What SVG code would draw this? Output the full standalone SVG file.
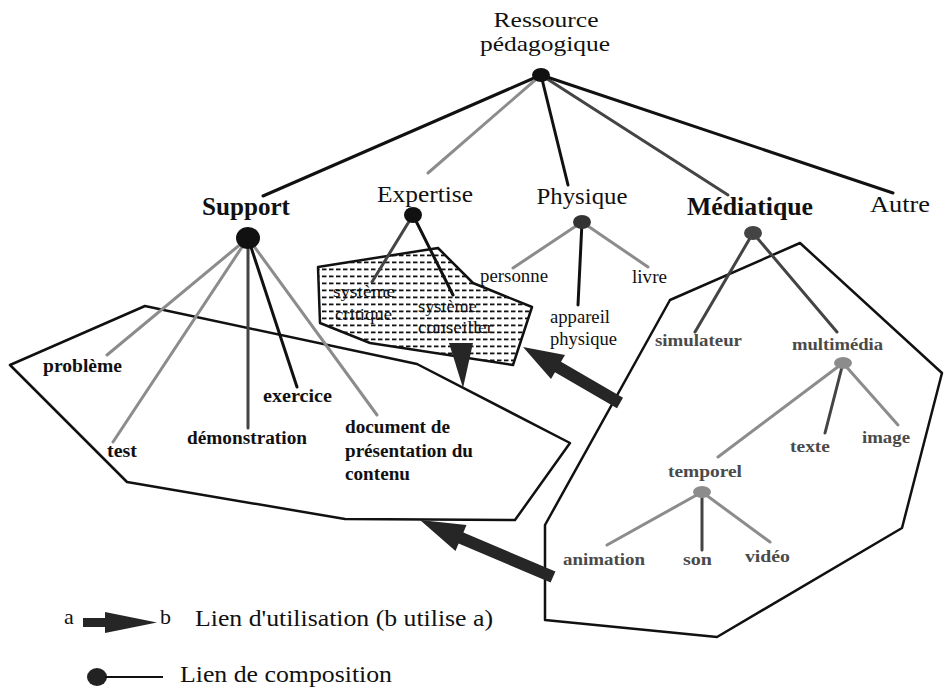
<svg xmlns="http://www.w3.org/2000/svg" width="948" height="688" viewBox="0 0 948 688">
<style>
.t{font-family:"Liberation Serif","Times New Roman",serif;fill:#111}
.b{font-weight:bold}
.g{fill:#4a4a4a}
.blk{stroke:#111;stroke-width:3;fill:none;stroke-linecap:round}
.dk{stroke:#444;stroke-width:3;fill:none;stroke-linecap:round}
.gr{stroke:#8c8c8c;stroke-width:3;fill:none;stroke-linecap:round}
.reg{fill:none;stroke:#111;stroke-width:2.5;stroke-linejoin:round}
.arr{fill:#262626}
</style>
<defs>
<pattern id="dash" patternUnits="userSpaceOnUse" width="7" height="7">
<rect x="0" y="2.5" width="4.5" height="1.8" fill="#111"/>
</pattern>
</defs>
<rect width="948" height="688" fill="#fff"/>

<g id="regions">
<polygon id="region-support" class="reg" points="10,365 145,306 417,364 570,443 515,520 345,519 127,482"/>
<polygon id="region-mediatique" class="reg" points="670,300 800,243 942,373 902,528 717,637 545,620 545,525"/>
<polygon id="region-expertise" class="reg" style="fill:url(#dash)" points="318,267 438,248 473,283 532,307 513,365 370,343 320,323"/>
</g>

<g id="connectors">
<line class="blk" x1="541" y1="75" x2="263" y2="196"/>
<line class="gr" x1="541" y1="75" x2="428" y2="173"/>
<line class="blk" x1="541" y1="75" x2="568" y2="185"/>
<line class="dk" x1="541" y1="75" x2="728" y2="195"/>
<line class="blk" x1="541" y1="75" x2="893" y2="193"/>

<line class="gr" x1="248" y1="238" x2="107" y2="355"/>
<line class="gr" x1="248" y1="238" x2="113" y2="442"/>
<line class="dk" x1="248" y1="238" x2="248" y2="428"/>
<line class="blk" x1="248" y1="238" x2="297" y2="387"/>
<line class="gr" x1="248" y1="238" x2="377" y2="415"/>

<line class="dk" x1="413" y1="215" x2="372" y2="282"/>
<line class="blk" x1="413" y1="215" x2="453" y2="295"/>

<line class="gr" x1="582" y1="222" x2="513" y2="268"/>
<line class="blk" x1="582" y1="222" x2="578" y2="305"/>
<line class="gr" x1="582" y1="222" x2="648" y2="267"/>

<line class="dk" x1="753" y1="233" x2="695" y2="332"/>
<line class="dk" x1="753" y1="233" x2="837" y2="332"/>

<line class="gr" x1="843" y1="363" x2="718" y2="457"/>
<line class="dk" x1="843" y1="363" x2="825" y2="433"/>
<line class="gr" x1="843" y1="363" x2="898" y2="425"/>

<line class="gr" x1="702" y1="492" x2="607" y2="545"/>
<line class="dk" x1="702" y1="492" x2="702" y2="550"/>
<line class="gr" x1="702" y1="492" x2="770" y2="542"/>

<polygon id="use-expertise-support" class="arr" points="449,343 473,343 463,388"/>
<polygon id="use-mediatique-expertise" class="arr" points="523,347 565,355 561,361.8 623,397.8 617,408.2 555,372.2 551,379"/>
<polygon id="use-mediatique-support" class="arr" points="420,520 466.5,525 463.4,532.5 555.4,571.5 550.6,582.5 458.6,543.5 455.5,551"/>
</g>

<g id="root">
<ellipse cx="541" cy="75" rx="9" ry="7" fill="#111"/>
<text class="t" x="546" y="27" font-size="21" text-anchor="middle" textLength="105" lengthAdjust="spacingAndGlyphs">Ressource</text>
<text class="t" x="545" y="51" font-size="21" text-anchor="middle" textLength="130" lengthAdjust="spacingAndGlyphs">pédagogique</text>
</g>

<g id="support">
<ellipse cx="248" cy="238" rx="12" ry="11" fill="#111"/>
<text class="t b" x="246" y="215" font-size="25" text-anchor="middle" textLength="88" lengthAdjust="spacingAndGlyphs">Support</text>
</g>
<g id="expertise">
<ellipse cx="413" cy="215" rx="9" ry="8" fill="#111"/>
<text class="t" x="425" y="202" font-size="24" text-anchor="middle" textLength="96" lengthAdjust="spacingAndGlyphs">Expertise</text>
</g>
<g id="physique">
<ellipse cx="582" cy="222" rx="9" ry="7" fill="#333"/>
<text class="t" x="582" y="204" font-size="24" text-anchor="middle" textLength="91" lengthAdjust="spacingAndGlyphs">Physique</text>
</g>
<g id="mediatique">
<ellipse cx="753" cy="233" rx="9" ry="7" fill="#444"/>
<text class="t b" x="750" y="215" font-size="25" text-anchor="middle" textLength="126" lengthAdjust="spacingAndGlyphs">Médiatique</text>
</g>
<g id="autre">
<text class="t" x="900" y="212" font-size="24" text-anchor="middle" textLength="60" lengthAdjust="spacingAndGlyphs">Autre</text>
</g>

<g id="probleme"><text class="t b" x="43" y="372" font-size="18" textLength="79" lengthAdjust="spacingAndGlyphs">problème</text></g>
<g id="test"><text class="t b" x="107" y="457" font-size="18" textLength="30" lengthAdjust="spacingAndGlyphs">test</text></g>
<g id="demonstration"><text class="t b" x="187" y="444" font-size="18" textLength="120" lengthAdjust="spacingAndGlyphs">démonstration</text></g>
<g id="exercice"><text class="t b" x="263" y="402" font-size="18" textLength="69" lengthAdjust="spacingAndGlyphs">exercice</text></g>
<g id="document">
<text class="t b" x="345" y="433" font-size="18" textLength="105" lengthAdjust="spacingAndGlyphs">document de</text>
<text class="t b" x="345" y="457" font-size="18" textLength="128" lengthAdjust="spacingAndGlyphs">présentation du</text>
<text class="t b" x="345" y="480" font-size="18" textLength="65" lengthAdjust="spacingAndGlyphs">contenu</text>
</g>

<g id="systeme-critique">
<text class="t" x="333" y="297" font-size="17" textLength="62" lengthAdjust="spacingAndGlyphs">système</text>
<text class="t" x="335" y="320" font-size="17" textLength="57" lengthAdjust="spacingAndGlyphs">critique</text>
</g>
<g id="systeme-conseiller">
<text class="t" x="418" y="312" font-size="17" textLength="59" lengthAdjust="spacingAndGlyphs">système</text>
<text class="t" x="418" y="333" font-size="17" textLength="75" lengthAdjust="spacingAndGlyphs">conseiller</text>
</g>

<g id="personne"><text class="t" x="480" y="282" font-size="19" textLength="68" lengthAdjust="spacingAndGlyphs">personne</text></g>
<g id="appareil-physique">
<text class="t" x="550" y="323" font-size="19" textLength="60" lengthAdjust="spacingAndGlyphs">appareil</text>
<text class="t" x="550" y="345" font-size="19" textLength="67" lengthAdjust="spacingAndGlyphs">physique</text>
</g>
<g id="livre"><text class="t" x="632" y="283" font-size="19" textLength="35" lengthAdjust="spacingAndGlyphs">livre</text></g>

<g id="simulateur"><text class="t b g" x="655" y="346" font-size="17" textLength="87" lengthAdjust="spacingAndGlyphs">simulateur</text></g>
<g id="multimedia">
<ellipse cx="843" cy="363" rx="9" ry="6" fill="#8c8c8c"/>
<text class="t b g" x="792" y="350" font-size="17" textLength="91" lengthAdjust="spacingAndGlyphs">multimédia</text>
</g>
<g id="texte"><text class="t b g" x="790" y="452" font-size="17" textLength="40" lengthAdjust="spacingAndGlyphs">texte</text></g>
<g id="image"><text class="t b g" x="862" y="443" font-size="17" textLength="48" lengthAdjust="spacingAndGlyphs">image</text></g>
<g id="temporel">
<ellipse cx="702" cy="492" rx="9" ry="6" fill="#8c8c8c"/>
<text class="t b g" x="668" y="477" font-size="17" textLength="74" lengthAdjust="spacingAndGlyphs">temporel</text>
</g>
<g id="animation"><text class="t b g" x="563" y="565" font-size="17" textLength="82" lengthAdjust="spacingAndGlyphs">animation</text></g>
<g id="son"><text class="t b g" x="683" y="565" font-size="17" textLength="29" lengthAdjust="spacingAndGlyphs">son</text></g>
<g id="video"><text class="t b g" x="745" y="562" font-size="17" textLength="45" lengthAdjust="spacingAndGlyphs">vidéo</text></g>

<g id="legend">
<text class="t" x="64" y="624" font-size="22">a</text>
<rect x="83" y="618" width="24" height="9" class="arr"/>
<polygon class="arr" points="105,612 157,622.5 105,633"/>
<text class="t" x="160" y="624" font-size="22">b</text>
<text class="t" x="195" y="626" font-size="23" textLength="298" lengthAdjust="spacingAndGlyphs">Lien d'utilisation (b utilise a)</text>
<ellipse cx="97" cy="677" rx="10" ry="9" fill="#222"/>
<line x1="105" y1="677" x2="163" y2="677" stroke="#111" stroke-width="2"/>
<text class="t" x="180" y="682" font-size="23" textLength="212" lengthAdjust="spacingAndGlyphs">Lien de composition</text>
</g>
</svg>
